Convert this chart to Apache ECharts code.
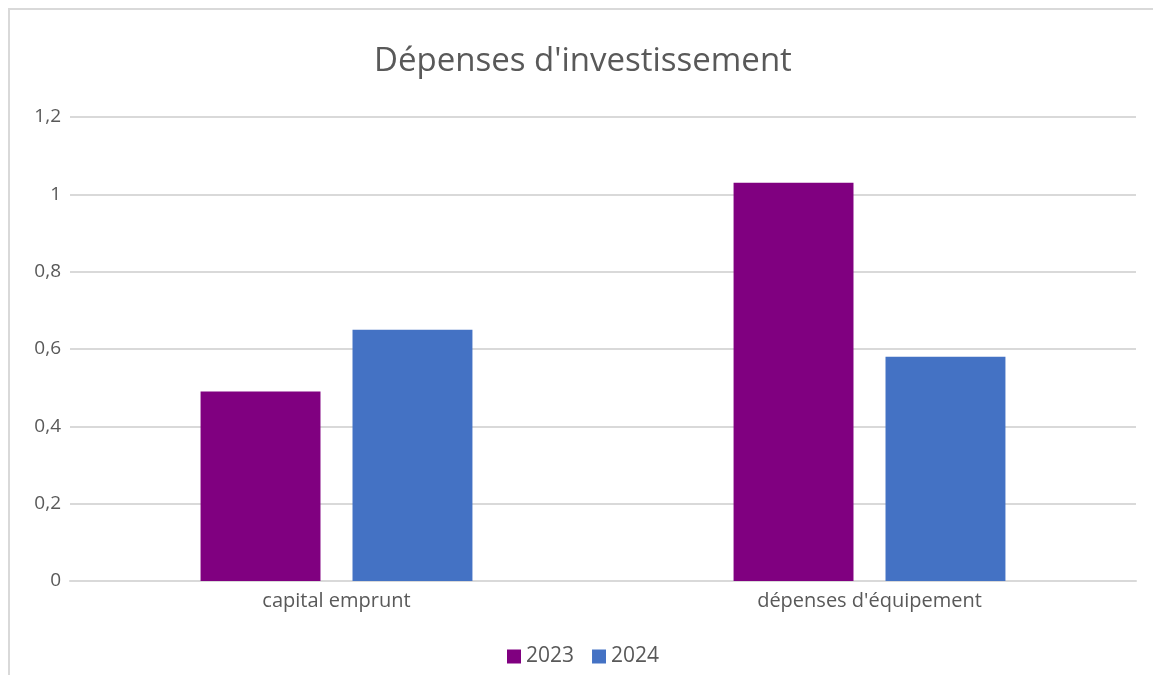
<!DOCTYPE html>
<html>
<head>
<meta charset="utf-8">
<script src="https://cdn.jsdelivr.net/npm/echarts@6/dist/echarts.min.js"></script>
<style>
  html, body { margin: 0; padding: 0; overflow: hidden; background: #fff; }
  #main { position: absolute; left: 0; top: 0; width: 1153px; height: 675px; }
  #frame { position: absolute; left: 8px; top: 8px; width: 1200px; height: 700px;
           border: 2px solid #d9d9d9; pointer-events: none; }
</style>
</head>
<body>
<div id="main"></div>
<div id="frame"></div>
<script>
var categories = ["capital emprunt", "dépenses d'équipement"];
var data2023 = [0.49, 1.03];
var data2024 = [0.65, 0.58];
var seriesNames = ["2023", "2024"];

var font = "'Open Sans', sans-serif";
var chart = echarts.init(document.getElementById("main"));
chart.setOption({
  animation: false,
  title: {
    text: "Dépenses d'investissement",
    left: 369,
    top: 40,
    textStyle: { fontFamily: font, fontSize: 33, fontWeight: "normal", color: "#595959" }
  },
  legend: {
    bottom: 3,
    left: 502,
    itemWidth: 14,
    itemHeight: 14,
    itemGap: 18,
    icon: "rect",
    textStyle: { fontFamily: font, fontSize: 21, color: "#595959" },
    data: seriesNames
  },
  grid: { left: 70, right: 17, top: 117, bottom: 94 },
  xAxis: {
    type: "category",
    data: categories,
    axisLine: { lineStyle: { color: "#d9d9d9", width: 2 } },
    axisTick: { show: false },
    axisLabel: { fontFamily: font, fontSize: 20, color: "#595959", margin: 10 }
  },
  yAxis: {
    type: "value",
    min: 0,
    max: 1.2,
    interval: 0.2,
    axisLine: { show: false },
    axisTick: { show: false },
    splitLine: { lineStyle: { color: "#d9d9d9", width: 2 } },
    axisLabel: {
      fontFamily: font, fontSize: 19, color: "#595959", margin: 9,
      formatter: function (v) { return String(Math.round(v * 10) / 10).replace(".", ","); }
    }
  },
  series: [
    {
      name: seriesNames[0],
      type: "bar",
      data: data2023,
      barWidth: "22.5%",
      barGap: "26.7%",
      itemStyle: { color: "#800080" }
    },
    {
      name: seriesNames[1],
      type: "bar",
      data: data2024,
      barWidth: "22.5%",
      barGap: "26.7%",
      itemStyle: { color: "#4472c4" }
    }
  ]
});
</script>
</body>
</html>
